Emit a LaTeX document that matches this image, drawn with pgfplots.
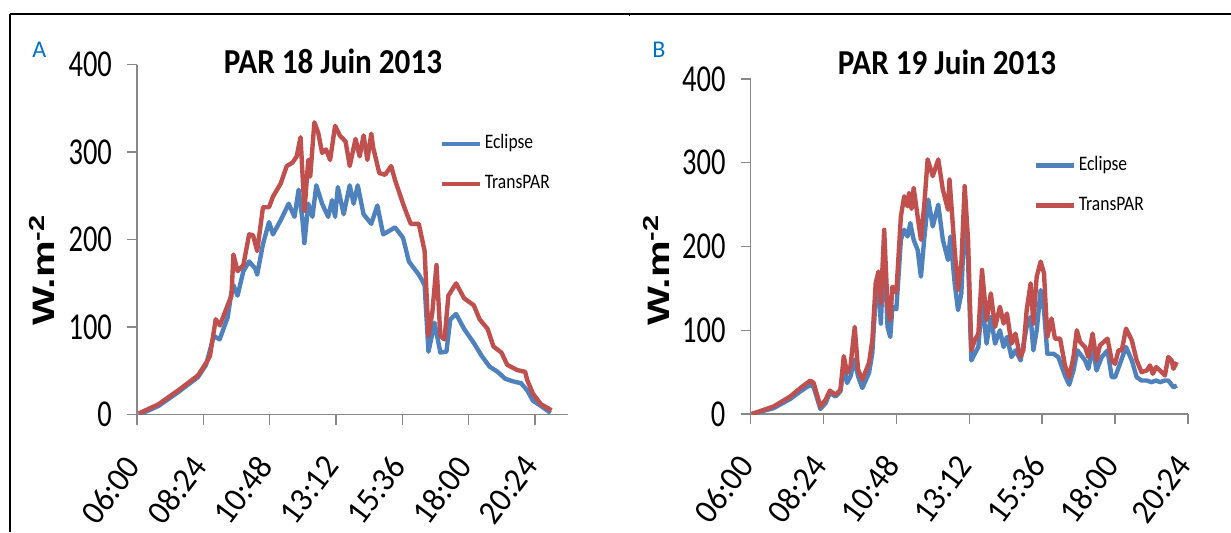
\documentclass[border=0pt]{standalone}
\usepackage{pgfplots}
\pgfplotsset{compat=1.18}
\usepackage{fontspec}
\setmainfont{Carlito}
\newfontfamily\ytickfont[FakeStretch=0.75]{Carlito}
\newfontfamily\xtickfont[FakeStretch=0.95]{Carlito}
\newfontfamily\titlefont[FakeStretch=0.89]{Carlito}
\newfontfamily\legfont[FakeStretch=0.85]{Carlito}
\newfontfamily\ylabfont{Liberation Sans}
\definecolor{eclipse}{HTML}{4F81BD}
\definecolor{transpar}{HTML}{C0504D}
\definecolor{axgray}{HTML}{888888}
\definecolor{panelblue}{HTML}{0070C0}

\pgfplotstableread{
h v
6.07 0
6.78 10
7.5 26
8.21 43
8.5 57
8.78 90
8.99 86
9.28 111
9.42 140
9.49 148
9.64 136
9.85 164
10.06 175
10.28 167
10.35 160
10.56 195
10.78 220
10.92 206
11.2 222
11.49 241
11.7 226
11.85 257
11.99 222
12.06 196
12.2 241
12.35 226
12.49 262
12.7 241
12.92 226
13.06 245
13.17 226
13.27 260
13.48 229
13.7 262
13.84 241
13.99 262
14.2 229
14.48 218
14.7 239
14.91 206
15.13 210
15.34 214
15.63 202
15.84 175
16.2 160
16.41 148
16.55 72
16.77 105
16.98 71
17.2 72
17.34 109
17.55 115
17.84 98
18.19 82
18.48 67
18.76 55
19.05 49
19.33 41
19.62 38
19.9 36
20.12 28
20.33 16
20.62 10
20.97 2
}\eclipseA

\pgfplotstableread{
h v
6.07 1.5
6.78 12
7.5 28
8.21 45
8.5 59
8.64 67
8.85 109
9.0 102
9.28 125
9.42 136
9.49 183
9.64 164
9.85 171
10.06 206
10.2 205
10.35 187
10.56 237
10.78 237
10.92 249
11.2 264
11.42 284
11.63 288
11.78 295
11.92 317
12.06 233
12.2 291
12.27 272
12.42 334
12.56 322
12.7 299
12.84 303
12.99 291
13.17 330
13.34 319
13.55 312
13.7 284
13.91 315
14.06 295
14.2 319
14.34 291
14.48 321
14.55 305
14.77 276
14.98 274
15.2 284
15.34 268
15.63 241
15.77 229
15.91 218
16.2 218
16.41 187
16.55 90
16.69 117
16.84 171
16.98 90
17.13 86
17.27 136
17.55 150
17.84 133
18.19 125
18.4 109
18.69 98
18.9 78
19.19 71
19.4 57
19.76 51
20.05 49
20.12 40
20.33 24
20.62 12
20.9 7
21.0 5
}\transparA

\pgfplotstableread{
h v
6.04 0
6.76 7
7.31 18
7.64 27
7.97 35
8.08 32
8.3 6
8.47 13
8.61 25
8.8 21
8.96 27
9.07 57
9.18 37
9.29 45
9.43 65
9.54 45
9.68 31
9.9 49
10.01 73
10.12 140
10.21 156
10.29 108
10.4 200
10.51 104
10.6 92
10.67 128
10.8 125
10.95 208
11.06 220
11.17 212
11.26 228
11.37 208
11.5 196
11.61 164
11.72 210
11.85 256
12.0 224
12.18 250
12.33 208
12.5 184
12.58 212
12.72 156
12.83 124
12.94 144
13.05 240
13.16 184
13.27 64
13.38 72
13.5 80
13.62 136
13.77 84
13.91 116
14.05 84
14.21 100
14.33 80
14.44 92
14.59 68
14.72 76
14.89 64
15.09 104
15.22 116
15.31 76
15.42 100
15.55 148
15.66 124
15.77 72
15.97 72
16.13 68
16.35 46
16.49 35
16.63 52
16.76 76
17.01 64
17.12 54
17.26 80
17.39 52
17.56 68
17.75 76
17.89 44
18.0 44
18.16 60
18.36 80
18.55 64
18.71 44
18.87 40
19.04 40
19.2 38
19.35 40
19.48 38
19.64 40
19.75 40
19.92 32
20.03 34
}\eclipseB

\pgfplotstableread{
h v
6.04 0
6.76 9
7.31 21
7.64 31
7.97 40
8.08 37
8.3 9
8.47 17
8.61 28
8.8 23
8.96 29
9.07 69
9.18 49
9.29 57
9.43 104
9.54 53
9.68 41
9.9 61
10.01 88
10.12 156
10.21 170
10.29 132
10.4 220
10.51 128
10.6 112
10.67 152
10.8 145
10.95 236
11.06 260
11.17 248
11.22 264
11.3 245
11.37 270
11.5 236
11.61 208
11.72 250
11.83 304
12.0 284
12.18 304
12.33 268
12.5 244
12.55 280
12.72 196
12.83 148
12.94 180
13.05 272
13.16 208
13.27 76
13.38 88
13.5 96
13.62 172
13.77 112
13.91 144
14.05 104
14.21 128
14.33 108
14.44 120
14.59 84
14.72 96
14.87 68
14.98 76
15.09 124
15.22 156
15.31 108
15.42 164
15.55 182
15.66 168
15.77 92
15.91 114
16.02 90
16.19 90
16.35 58
16.49 44
16.63 68
16.74 100
16.85 86
17.01 80
17.12 68
17.26 96
17.39 64
17.5 82
17.75 90
17.89 64
18.0 60
18.11 76
18.22 76
18.36 102
18.55 88
18.71 64
18.87 50
19.04 52
19.15 58
19.24 48
19.35 56
19.48 52
19.64 46
19.75 68
19.86 64
19.92 54
20.03 62
}\transparB

\pgfplotsset{
  parstyle/.style={
    scale only axis,
    anchor=south west,
    ymin=0, ymax=400,
    xmin=6,
    axis x line*=bottom,
    axis y line*=left,
    axis line style={axgray, line width=0.7pt},
    tick style={axgray, line width=0.7pt},
    tick align=outside,
    major tick length=5pt,
    ytick={0,100,200,300,400},
    yticklabels={0,100,200,300,400},
    xtick={6,8.4,10.8,13.2,15.6,18,20.4},
    xticklabels={06:00,08:24,10:48,13:12,15:36,18:00,20:24},
    /pgf/number format/assume math mode=true,
    yticklabel style={font=\fontsize{19}{22}\selectfont\ytickfont, anchor=east, xshift=-4pt},
    xticklabel style={font=\fontsize{17}{20}\selectfont\xtickfont, rotate=53, anchor=east},
    xticklabel shift=15pt,
    legend cell align=left,
    legend image code/.code={\draw[#1, line width=2.4pt] (0pt,0pt) -- (19pt,0pt);},
    legend style={draw=none, fill=none, inner sep=0pt, row sep=11pt,
      font=\fontsize{10.3}{12}\selectfont\legfont,
      nodes={inner xsep=1pt, inner ysep=0pt, text height=7pt, text depth=2pt}},
    every axis plot/.append style={line width=2.2pt, line join=round},
  }
}

\begin{document}
\begin{tikzpicture}
\path[use as bounding box] (0pt,0pt) rectangle (615.5pt,266pt);
% frame
\draw[line width=0.8pt] (5pt,259pt) -- (615.5pt,259pt);
\draw[line width=1.1pt] (5pt,259pt) -- (5pt,0pt);
\draw[line width=0.5pt] (314.5pt,259pt) -- (314.5pt,257.8pt);

\begin{axis}[parstyle, at={(68.5pt,58.65pt)}, width=215.5pt, height=175.1pt, xmax=21.6,
  legend style={at={(0.702,0.716)}, anchor=west}]
\addplot[eclipse] table[x=h, y=v] {\eclipseA};
\addlegendentry{Eclipse}
\addplot[transpar] table[x=h, y=v] {\transparA};
\addlegendentry{TransPAR}
\end{axis}

\begin{axis}[parstyle, at={(375.25pt,59pt)}, width=218.75pt, height=167.5pt, xmax=20.4,
  legend style={at={(0.647,0.683)}, anchor=west}]
\addplot[eclipse] table[x=h, y=v] {\eclipseB};
\addlegendentry{Eclipse}
\addplot[transpar] table[x=h, y=v] {\transparB};
\addlegendentry{TransPAR}
\end{axis}

% titles
\node[anchor=base, inner sep=0pt, font=\fontsize{17.5}{20}\selectfont\titlefont\bfseries] at (166.5pt,229.5pt) {PAR 18 Juin 2013};
\node[anchor=base, inner sep=0pt, font=\fontsize{17.5}{20}\selectfont\titlefont\bfseries] at (473.5pt,229pt) {PAR 19 Juin 2013};
% panel letters
\node[anchor=base west, inner sep=0pt, text=panelblue, font=\fontsize{12}{14}\selectfont] at (16pt,237.5pt) {A};
\node[anchor=base west, inner sep=0pt, text=panelblue, font=\fontsize{12}{14}\selectfont] at (326pt,237.5pt) {B};
% y labels
\node[rotate=90, anchor=base, inner sep=0pt, font=\fontsize{15.5}{18}\selectfont\ylabfont\bfseries] at (27.5pt,131pt) {\scalebox{1.33}[1]{W.m\textsuperscript{-2}}};
\node[rotate=90, anchor=base, inner sep=0pt, font=\fontsize{15.5}{18}\selectfont\ylabfont\bfseries] at (334.5pt,131pt) {\scalebox{1.33}[1]{W.m\textsuperscript{-2}}};
\end{tikzpicture}
\end{document}
